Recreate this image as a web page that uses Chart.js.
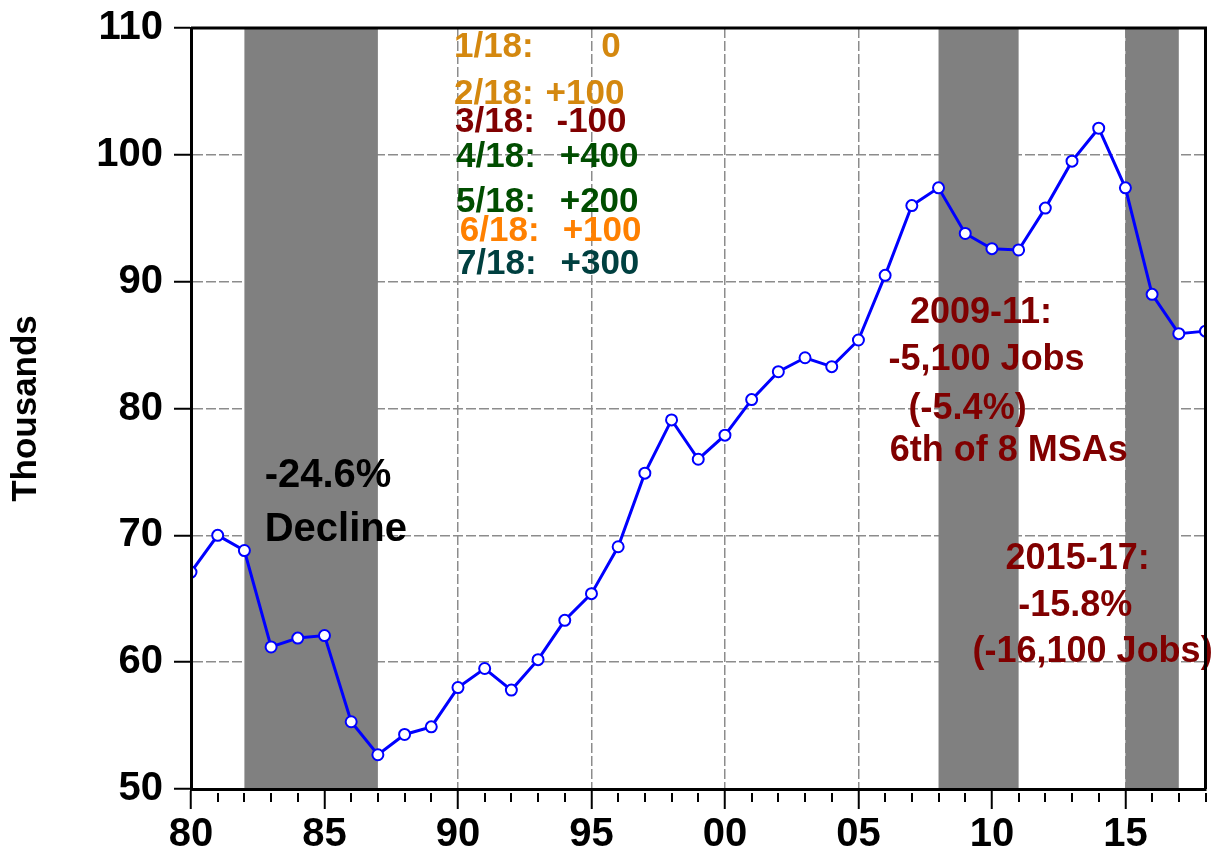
<!DOCTYPE html>
<html>
<head>
<meta charset="utf-8">
<title>Jobs, thousands</title>
<script src="https://cdn.jsdelivr.net/npm/chart.js@4.4.1/dist/chart.umd.min.js"></script>
<style>
  html, body { margin: 0; padding: 0; background: #fff; }
  #wrap { width: 1213px; height: 857px; }
</style>
</head>
<body>
<div id="wrap"><canvas id="chart" width="1213" height="857"></canvas></div>
<script>
const FONT = "'Liberation Sans', Arial, sans-serif";

/* ================== DATA ================== */
const years = [
  1980, 1981, 1982, 1983, 1984, 1985, 1986, 1987, 1988, 1989,
  1990, 1991, 1992, 1993, 1994, 1995, 1996, 1997, 1998, 1999,
  2000, 2001, 2002, 2003, 2004, 2005, 2006, 2007, 2008, 2009,
  2010, 2011, 2012, 2013, 2014, 2015, 2016, 2017, 2018
];
const jobs = [
  67.1, 70.0, 68.8, 61.2, 61.9, 62.1, 55.3, 52.7, 54.3, 54.9,
  58.0, 59.5, 57.8, 60.2, 63.3, 65.4, 69.1, 74.9, 79.1, 76.0,
  77.9, 80.7, 82.9, 84.0, 83.3, 85.4, 90.5, 96.0, 97.4, 93.8,
  92.6, 92.5, 95.8, 99.5, 102.1, 97.4, 89.0, 85.9, 86.1
];
const yMin = 50;
const yMax = 110;
const yStep = 10;

// shaded periods (start year, end year)
const shadeStart = [1982, 2008, 2015];
const shadeEnd = [1987, 2011, 2017];

// monthly changes, 2018
const monthLabels = ["1/18:", "2/18:", "3/18:", "4/18:", "5/18:", "6/18:", "7/18:"];
const monthChanges = ["0", "+100", "-100", "+400", "+200", "+100", "+300"];
const monthColors = ["#D4880F", "#D4880F", "#800000", "#004D00", "#004D00", "#FF8000", "#004040"];

/* ================== ANNOTATION PLACEMENT (data units) ================== */
const monthLabelX = [1989.85, 1989.85, 1989.89, 1989.93, 1989.93, 1990.07, 1989.96];
const monthValueX = [1995.37, 1993.28, 1993.69, 1993.81, 1993.81, 1993.92, 1993.84];
const monthY = [108.48, 104.77, 102.56, 99.80, 96.25, 93.96, 91.35];

const redNotes = [
  { text: "2009-11:", x: 2009.59, y: 87.51 },
  { text: "-5,100 Jobs", x: 2009.80, y: 83.78 },
  { text: "(-5.4%)", x: 2009.09, y: 79.94 },
  { text: "6th of 8 MSAs", x: 2010.63, y: 76.62 },
  { text: "2015-17:", x: 2013.21, y: 68.11 },
  { text: "-15.8%", x: 2013.12, y: 64.40 },
  { text: "(-16,100 Jobs)", x: 2013.77, y: 60.81 }
];
const blackNotes = [
  { text: "-24.6%", x: 1982.76, y: 74.65 },
  { text: "Decline", x: 1982.76, y: 70.44 }
];

/* ================== PLUGINS ================== */
const shadePlugin = {
  id: "shade",
  beforeDatasetsDraw(chart) {
    const { ctx, chartArea: a, scales: { x } } = chart;
    ctx.save();
    ctx.fillStyle = "#808080";
    shadeStart.forEach((s, i) => {
      const x1 = x.getPixelForValue(s);
      const x2 = x.getPixelForValue(shadeEnd[i]);
      ctx.fillRect(x1, a.top, x2 - x1, a.bottom - a.top);
    });
    ctx.restore();
  }
};

const framePlugin = {
  id: "frame",
  afterDraw(chart) {
    const { ctx, chartArea: a, scales: { x } } = chart;
    ctx.save();
    ctx.strokeStyle = "#000";
    ctx.lineWidth = 3;
    ctx.beginPath();
    ctx.moveTo(a.left, a.top);
    ctx.lineTo(a.right, a.top);
    ctx.lineTo(a.right, a.bottom);
    ctx.stroke();

    // minor year ticks
    ctx.lineWidth = 2;
    years.forEach(yr => {
      if (yr % 5 === 0) return;
      const px = Math.round(x.getPixelForValue(yr));
      ctx.beginPath();
      ctx.moveTo(px, a.bottom + 4);
      ctx.lineTo(px, a.bottom + 13);
      ctx.stroke();
    });
    ctx.restore();
  }
};

const notesPlugin = {
  id: "notes",
  afterDatasetsDraw(chart) {
    const { ctx, scales: { x, y } } = chart;
    ctx.save();
    ctx.textBaseline = "middle";

    ctx.font = `bold 35px ${FONT}`;
    ctx.textAlign = "left";
    monthLabels.forEach((lbl, i) => {
      ctx.fillStyle = monthColors[i];
      const py = y.getPixelForValue(monthY[i]);
      ctx.fillText(lbl, x.getPixelForValue(monthLabelX[i]), py);
      ctx.fillText(monthChanges[i], x.getPixelForValue(monthValueX[i]), py);
    });

    ctx.font = `bold 36px ${FONT}`;
    ctx.textAlign = "center";
    ctx.fillStyle = "#800000";
    redNotes.forEach(n => {
      ctx.fillText(n.text, x.getPixelForValue(n.x), y.getPixelForValue(n.y));
    });

    ctx.font = `bold 40px ${FONT}`;
    ctx.textAlign = "left";
    ctx.fillStyle = "#000";
    blackNotes.forEach(n => {
      ctx.fillText(n.text, x.getPixelForValue(n.x), y.getPixelForValue(n.y));
    });
    ctx.restore();
  }
};

/* ================== CHART ================== */
const tickFont = { family: FONT, size: 40, weight: "bold" };
const isMajor = c => c.tick && c.tick.value % 5 === 0;

new Chart(document.getElementById("chart"), {
  type: "line",
  data: {
    datasets: [{
      data: years.map((yr, i) => ({ x: yr, y: jobs[i] })),
      borderColor: "#0000FF",
      borderWidth: 3,
      pointRadius: 5.5,
      pointBorderWidth: 2,
      pointBackgroundColor: "#FFFFFF",
      pointBorderColor: "#0000FF",
      tension: 0
    }]
  },
  options: {
    responsive: false,
    animation: false,
    layout: { padding: { top: 28, right: 3, left: 0, bottom: 0 } },
    plugins: {
      legend: { display: false },
      tooltip: { enabled: false }
    },
    scales: {
      x: {
        type: "linear",
        min: years[0],
        max: years[years.length - 1],
        afterFit: s => {
          s.height = 68;
          s.paddingLeft = 0;
          s.paddingRight = 0;
        },
        ticks: {
          stepSize: 1,
          autoSkip: false,
          maxRotation: 0,
          padding: 2,
          color: "#000",
          font: tickFont,
          callback: v => (v % 5 === 0 ? String(v % 100).padStart(2, "0") : "")
        },
        grid: {
          color: c => (isMajor(c) ? "#8C8C8C" : "rgba(0,0,0,0)"),
          lineWidth: 1.5,
          tickColor: c => (isMajor(c) ? "#000" : "rgba(0,0,0,0)"),
          tickWidth: 2,
          tickLength: 20
        },
        border: { display: true, color: "#000", width: 3, dash: [10, 3], z: 1 }
      },
      y: {
        min: yMin,
        max: yMax,
        afterFit: s => {
          s.width = 191;
          s.paddingTop = 0;
          s.paddingBottom = 0;
        },
        ticks: {
          stepSize: yStep,
          padding: 11,
          color: "#000",
          font: tickFont
        },
        grid: {
          color: "#8C8C8C",
          lineWidth: 1.5,
          tickColor: "#000",
          tickWidth: 2,
          tickLength: 17
        },
        border: { display: true, color: "#000", width: 3, dash: [10, 3], z: 1 },
        title: {
          display: true,
          text: "Thousands",
          color: "#000",
          font: { family: FONT, size: 35, weight: "bold" },
          padding: { top: 5, bottom: 0 }
        }
      }
    }
  },
  plugins: [shadePlugin, notesPlugin, framePlugin]
});
</script>
</body>
</html>
